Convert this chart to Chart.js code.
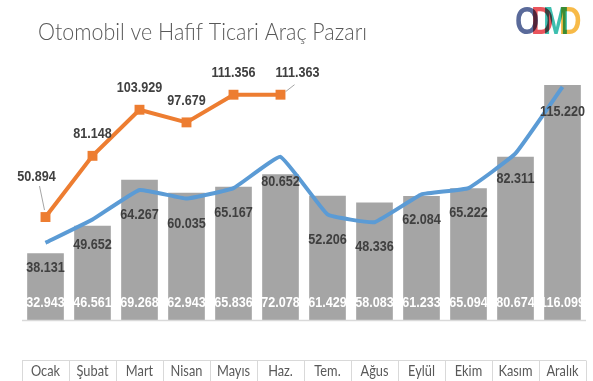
<!DOCTYPE html>
<html>
<head>
<meta charset="utf-8">
<script src="https://cdn.jsdelivr.net/npm/chart.js@4/dist/chart.umd.min.js"></script>
<style>
html,body{margin:0;padding:0;background:#fff;}
#c{display:block;}
</style>
</head>
<body>
<canvas id="c" width="593" height="381"></canvas>
<script>
const titleText = 'Otomobil ve Hafif Ticari Araç Pazarı';
const logoLetters = ['O', 'D', 'M', 'D'];
const months = ['Ocak', 'Şubat', 'Mart', 'Nisan', 'Mayıs', 'Haz.', 'Tem.', 'Ağus', 'Eylül', 'Ekim', 'Kasım', 'Aralık'];
const barValues = [32943, 46561, 69268, 62943, 65836, 72078, 61429, 58083, 61233, 65094, 80674, 116099];
const blueValues = [38131, 49652, 64267, 60035, 65167, 80652, 52206, 48336, 62084, 65222, 82311, 115220];
const orangeValues = [50894, 81148, 103929, 97679, 111356, 111363, null, null, null, null, null, null];

function fmt(v) {
  return Math.floor(v / 1000) + '.' + String(v % 1000).padStart(3, '0');
}
function txt(ctx, s, x, y, font, color, sx, align, baseline) {
  ctx.save();
  ctx.font = font;
  ctx.fillStyle = color;
  ctx.textAlign = align || 'center';
  ctx.textBaseline = baseline || 'middle';
  ctx.translate(x, y);
  ctx.scale(sx, 1);
  ctx.fillText(s, 0, 0);
  ctx.restore();
}
const NUMFONT = 'bold 15px "Liberation Sans", Arial, sans-serif';
const NUMSX = 0.84;

const custom = {
  id: 'custom',
  beforeDraw(chart) {
    const ctx = chart.ctx;
    ctx.save();
    ctx.fillStyle = '#ffffff';
    ctx.fillRect(0, 0, chart.width, chart.height);
    ctx.restore();
  },
  afterDatasetsDraw(chart) {
    const ctx = chart.ctx;
    const area = chart.chartArea;
    const ys = chart.scales.y;
    const base = ys.getPixelForValue(0);
    // baseline
    ctx.save();
    ctx.strokeStyle = '#d9d9d9';
    ctx.lineWidth = 1.5;
    ctx.beginPath();
    ctx.moveTo(area.left, base + 0.5);
    ctx.lineTo(area.right, base + 0.5);
    ctx.stroke();
    ctx.restore();

    const barMeta = chart.getDatasetMeta(2);
    const blueMeta = chart.getDatasetMeta(1);
    const orMeta = chart.getDatasetMeta(0);
    barMeta.data.forEach((el, i) => {
      txt(ctx, fmt(barValues[i]), el.x, base - 17, NUMFONT, '#ffffff', NUMSX);
    });
    blueMeta.data.forEach((el, i) => {
      txt(ctx, fmt(blueValues[i]), el.x, el.y + 25, NUMFONT, '#404040', NUMSX);
    });
    orMeta.data.forEach((el, i) => {
      const v = orangeValues[i];
      if (v === null || v === undefined) return;
      let dx = 0, dy = -22;
      if (i === 0) {
        dx = -9; dy = -40;
        ctx.save();
        ctx.strokeStyle = '#a6a6a6';
        ctx.lineWidth = 1;
        ctx.beginPath();
        ctx.moveTo(el.x - 6, el.y - 31);
        ctx.lineTo(el.x - 1, el.y - 7);
        ctx.stroke();
        ctx.restore();
      }
      if (i === 5) {
        dx = 17; dy = -22;
        ctx.save();
        ctx.strokeStyle = '#a6a6a6';
        ctx.lineWidth = 1;
        ctx.beginPath();
        ctx.moveTo(el.x + 5, el.y - 3);
        ctx.lineTo(el.x + 14, el.y - 10);
        ctx.stroke();
        ctx.restore();
      }
      txt(ctx, fmt(v), el.x + dx, el.y + dy, NUMFONT, '#404040', NUMSX);
    });
  },
  afterDraw(chart) {
    const ctx = chart.ctx;
    const area = chart.chartArea;
    const xs = chart.scales.x;
    const step = xs.getPixelForValue(1) - xs.getPixelForValue(0);
    ctx.save();
    ctx.strokeStyle = '#d9d9d9';
    ctx.lineWidth = 1;
    ctx.beginPath();
    ctx.moveTo(area.left, 360.5);
    ctx.lineTo(area.right, 360.5);
    for (let i = 0; i <= months.length; i++) {
      const bx = Math.round(xs.getPixelForValue(0) - step / 2 + i * step) + 0.5;
      ctx.moveTo(bx, 360.5);
      ctx.lineTo(bx, chart.height);
    }
    ctx.stroke();
    ctx.restore();
    months.forEach((m, i) => {
      txt(ctx, m, xs.getPixelForValue(i), 376, '16px Lato, "Noto Sans", sans-serif', '#595959', 0.8, 'center', 'alphabetic');
    });
    ctx.save();
    ctx.font = '300 24px Lato, "Noto Sans", sans-serif';
    const w = ctx.measureText(titleText).width;
    ctx.restore();
    txt(ctx, titleText, 38, 40, '300 24px Lato, "Noto Sans", sans-serif', '#595959', 329 / w, 'left', 'alphabetic');
    const logoX = [515, 531, 543, 559];
    const logoC = ['#5a6a9a', '#e9545c', '#3dbfaf', '#f7ba48'];
    ctx.save();
    ctx.globalCompositeOperation = 'multiply';
    logoLetters.forEach((L, i) => {
      txt(ctx, L, logoX[i], 34, '900 38px "Liberation Sans", Arial, sans-serif', logoC[i], 0.82, 'left', 'alphabetic');
    });
    ctx.restore();
  }
};

new Chart(document.getElementById('c'), {
  data: {
    labels: months,
    datasets: [
      {
        type: 'line',
        data: orangeValues,
        borderColor: '#ed7d31',
        backgroundColor: '#ed7d31',
        borderWidth: 4,
        pointStyle: 'rect',
        pointRadius: 7,
        pointBorderWidth: 0,
        tension: 0,
        spanGaps: false,
        order: 1
      },
      {
        type: 'line',
        data: blueValues,
        borderColor: '#5b9bd5',
        backgroundColor: '#5b9bd5',
        borderWidth: 4,
        pointRadius: 0,
        tension: 0.1,
        order: 2
      },
      {
        type: 'bar',
        data: barValues,
        backgroundColor: '#a5a5a5',
        borderWidth: 0,
        barPercentage: 0.78,
        categoryPercentage: 1,
        order: 3
      }
    ]
  },
  options: {
    responsive: false,
    animation: false,
    devicePixelRatio: 1,
    layout: { padding: { left: 22, right: 0, top: 57, bottom: 61 } },
    plugins: { legend: { display: false }, tooltip: { enabled: false }, title: { display: false } },
    scales: {
      x: { display: false, offset: true },
      y: { display: false, min: 0, max: 130000 }
    },
    clip: false
  },
  plugins: [custom]
});
</script>
</body>
</html>
